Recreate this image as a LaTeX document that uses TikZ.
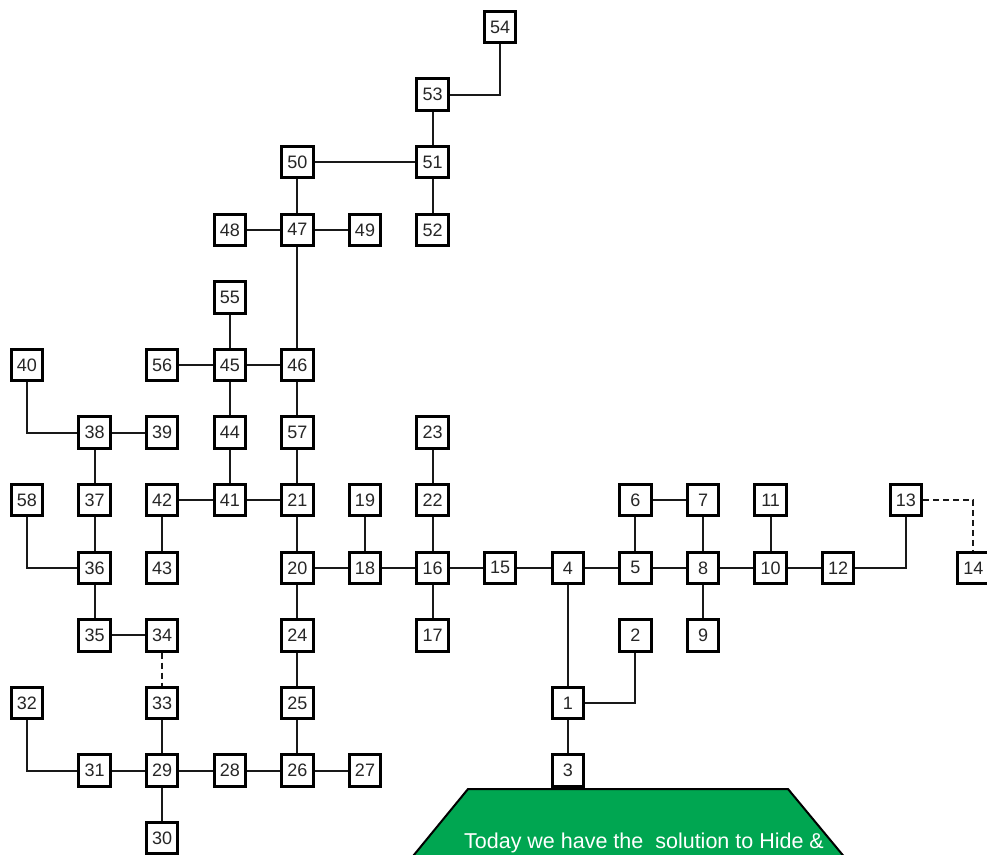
\documentclass[tikz,border=0pt]{standalone}
\usepackage{fontspec}
\setmainfont{Liberation Sans}
\definecolor{tgreen}{HTML}{00A651}
\newcommand\gnode[3]{\node[box] (n#1) at ({27+67.6*#2},{27+67.6*#3}) {#1};}
\begin{document}
\begin{tikzpicture}[x=1pt,y=-1pt,
  box/.style={draw=black, line width=3pt, fill=white, minimum size=31.5pt, inner sep=0pt,
    font=\fontsize{18}{18}\selectfont, text=black!85},
  link/.style={line width=2pt, draw=black!90},
  dlink/.style={link, dash pattern=on 6pt off 4pt}]
\useasboundingbox (0,0) rectangle (987,854);
\clip (0,0) rectangle (987,854);
% green panel
\draw[fill=tgreen, draw=black, line width=2pt] (468,789) -- (788,789) -- (880,900) -- (377,900) -- cycle;
\node[anchor=base, text=white, font=\fontsize{21.5}{21.5}\selectfont] (caption) at (644,848.5) {Today we have the\ \ solution to Hide \&};
% nodes
\gnode{54}{7}{0}
\gnode{53}{6}{1}
\gnode{50}{4}{2} \gnode{51}{6}{2}
\gnode{48}{3}{3} \gnode{47}{4}{3} \gnode{49}{5}{3} \gnode{52}{6}{3}
\gnode{55}{3}{4}
\gnode{40}{0}{5} \gnode{56}{2}{5} \gnode{45}{3}{5} \gnode{46}{4}{5}
\gnode{38}{1}{6} \gnode{39}{2}{6} \gnode{44}{3}{6} \gnode{57}{4}{6} \gnode{23}{6}{6}
\gnode{58}{0}{7} \gnode{37}{1}{7} \gnode{42}{2}{7} \gnode{41}{3}{7} \gnode{21}{4}{7}
\gnode{19}{5}{7} \gnode{22}{6}{7} \gnode{6}{9}{7} \gnode{7}{10}{7} \gnode{11}{11}{7} \gnode{13}{13}{7}
\gnode{36}{1}{8} \gnode{43}{2}{8} \gnode{20}{4}{8} \gnode{18}{5}{8} \gnode{16}{6}{8}
\gnode{15}{7}{8} \gnode{4}{8}{8} \gnode{5}{9}{8} \gnode{8}{10}{8} \gnode{10}{11}{8}
\gnode{12}{12}{8} \gnode{14}{14}{8}
\gnode{35}{1}{9} \gnode{34}{2}{9} \gnode{24}{4}{9} \gnode{17}{6}{9} \gnode{2}{9}{9} \gnode{9}{10}{9}
\gnode{32}{0}{10} \gnode{33}{2}{10} \gnode{25}{4}{10} \gnode{1}{8}{10}
\gnode{31}{1}{11} \gnode{29}{2}{11} \gnode{28}{3}{11} \gnode{26}{4}{11} \gnode{27}{5}{11} \gnode{3}{8}{11}
\gnode{30}{2}{12}
% connectors
\draw[link] (n53) -| (n54);
\draw[link] (n53) -- (n51);
\draw[link] (n50) -- (n51);
\draw[link] (n51) -- (n52);
\draw[link] (n50) -- (n47);
\draw[link] (n48) -- (n47);
\draw[link] (n47) -- (n49);
\draw[link] (n47) -- (n46);
\draw[link] (n55) -- (n45);
\draw[link] (n56) -- (n45);
\draw[link] (n45) -- (n46);
\draw[link] (n45) -- (n44);
\draw[link] (n44) -- (n41);
\draw[link] (n46) -- (n57);
\draw[link] (n57) -- (n21);
\draw[link] (n40) |- (n38);
\draw[link] (n38) -- (n39);
\draw[link] (n38) -- (n37);
\draw[link] (n37) -- (n36);
\draw[link] (n58) |- (n36);
\draw[link] (n36) -- (n35);
\draw[link] (n35) -- (n34);
\draw[dlink] (n34) -- (n33);
\draw[link] (n33) -- (n29);
\draw[link] (n32) |- (n31);
\draw[link] (n31) -- (n29);
\draw[link] (n29) -- (n28);
\draw[link] (n28) -- (n26);
\draw[link] (n26) -- (n27);
\draw[link] (n29) -- (n30);
\draw[link] (n26) -- (n25);
\draw[link] (n25) -- (n24);
\draw[link] (n24) -- (n20);
\draw[link] (n42) -- (n41);
\draw[link] (n41) -- (n21);
\draw[link] (n42) -- (n43);
\draw[link] (n21) -- (n20);
\draw[link] (n20) -- (n18);
\draw[link] (n18) -- (n16);
\draw[link] (n16) -- (n15);
\draw[link] (n15) -- (n4);
\draw[link] (n4) -- (n5);
\draw[link] (n5) -- (n8);
\draw[link] (n8) -- (n10);
\draw[link] (n10) -- (n12);
\draw[link] (n19) -- (n18);
\draw[link] (n23) -- (n22);
\draw[link] (n22) -- (n16);
\draw[link] (n16) -- (n17);
\draw[link] (n6) -- (n7);
\draw[link] (n6) -- (n5);
\draw[link] (n7) -- (n8);
\draw[link] (n8) -- (n9);
\draw[link] (n11) -- (n10);
\draw[link] (n12) -| (n13);
\draw[dlink] (n13) -| (n14);
\draw[link] (n4) -- (n1);
\draw[link] (n1) -| (n2);
\draw[link] (n1) -- (n3);
\end{tikzpicture}
\end{document}
